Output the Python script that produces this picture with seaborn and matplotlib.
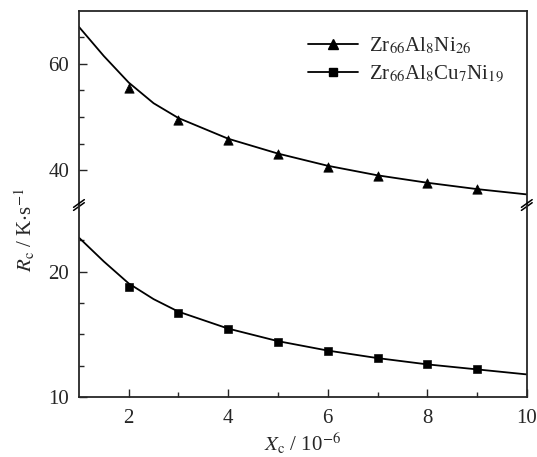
import matplotlib
matplotlib.use("Agg")
import matplotlib.pyplot as plt
import pandas as pd
import seaborn as sns

# measured points
x_points = [2, 3, 4, 5, 6, 7, 8, 9]
rc_zr_al_ni = [55.4, 49.4, 45.7, 43.0, 40.6, 38.9, 37.5, 36.4]
rc_zr_al_cu_ni = [18.75, 16.7, 15.4, 14.4, 13.7, 13.1, 12.6, 12.2]

# fitted curves
x_curve = [1, 1.5, 2, 2.5, 3, 4, 5, 6, 7, 8, 9, 10]
fit_zr_al_ni = [67.0, 61.5, 56.5, 52.6, 49.8, 45.9, 43.1, 40.8, 39.0, 37.6, 36.4, 35.4]
fit_zr_al_cu_ni = [22.7, 20.8, 19.05, 17.8, 16.8, 15.45, 14.45, 13.7, 13.1, 12.6, 12.2, 11.8]

label_ni = r"Zr$_{66}$Al$_{8}$Ni$_{26}$"
label_cu = r"Zr$_{66}$Al$_{8}$Cu$_{7}$Ni$_{19}$"

sns.set_style("ticks")
plt.rcParams["font.family"] = ["Liberation Serif", "DejaVu Serif"]
plt.rcParams["mathtext.fontset"] = "stix"
plt.rcParams["xtick.direction"] = "in"
plt.rcParams["ytick.direction"] = "in"
plt.rcParams["font.size"] = 15

fig = plt.figure(figsize=(5.37, 4.57), dpi=100)
ax_top = fig.add_axes([0.147, 0.5514, 0.834, 0.4246])
ax_bot = fig.add_axes([0.147, 0.1313, 0.834, 0.4201])

curve_top = pd.DataFrame({"x": x_curve, "y": fit_zr_al_ni})
curve_bot = pd.DataFrame({"x": x_curve, "y": fit_zr_al_cu_ni})
pts_top = pd.DataFrame({"x": x_points, "y": rc_zr_al_ni})
pts_bot = pd.DataFrame({"x": x_points, "y": rc_zr_al_cu_ni})

sns.lineplot(data=curve_top, x="x", y="y", ax=ax_top, color="black", lw=1.3)
sns.lineplot(data=curve_bot, x="x", y="y", ax=ax_bot, color="black", lw=1.3)
sns.scatterplot(data=pts_top, x="x", y="y", ax=ax_top, color="black",
                marker="^", s=45, edgecolor="black", zorder=3)
sns.scatterplot(data=pts_bot, x="x", y="y", ax=ax_bot, color="black",
                marker="s", s=30, edgecolor="black", zorder=3)

for ax in (ax_top, ax_bot):
    ax.set_xlim(1, 10)
    ax.set_xlabel("")
    ax.set_ylabel("")
    for s in ax.spines.values():
        s.set_linewidth(1.3)
    ax.tick_params(which="major", length=6, width=1)
    ax.tick_params(which="minor", length=3.5, width=1)
    ax.tick_params(axis="y", which="major", pad=7)
    ax.tick_params(axis="x", which="major", pad=9)
    ax.set_xticks([2, 4, 6, 8, 10])
    ax.set_xticks([3, 5, 7, 9], minor=True)

ax_top.set_ylim(33.4, 70)
ax_top.set_yticks([40, 60])
ax_top.set_yticks([45, 50, 55, 65], minor=True)
ax_top.spines["bottom"].set_visible(False)
ax_top.tick_params(axis="x", which="both", bottom=False, labelbottom=False)

ax_bot.set_ylim(10, 25.3)
ax_bot.set_yticks([10, 20])
ax_bot.set_yticks([12.5, 15, 17.5, 22.5], minor=True)
ax_bot.spines["top"].set_visible(False)

# legend with line + marker handles
h_ni = plt.Line2D([], [], color="black", lw=1.3, marker="^", markersize=7)
h_cu = plt.Line2D([], [], color="black", lw=1.3, marker="s", markersize=5.5)
fig.legend([h_ni, h_cu], [label_ni, label_cu], loc="upper left",
           bbox_to_anchor=(308 / 537, 0.922), bbox_transform=fig.transFigure,
           frameon=False, borderpad=0, borderaxespad=0, handlelength=2.4,
           handletextpad=0.55, labelspacing=0.35, fontsize=15)

# break marks
d = 0.012
for xx in (0, 1):
    for off in (-0.016, 0.0):
        ax_bot.plot([xx - d, xx + d], [1 + off - 0.012, 1 + off + 0.028],
                    transform=ax_bot.transAxes, color="black", lw=1.1, clip_on=False)

fig.text(0.047, 0.497, r"$R_{\rm c}$ / K$\cdot$s$^{-1}$", rotation=90,
         ha="center", va="center", fontsize=15)
fig.text(0.564, 0.028, r"$X_{\rm c}$ / 10$^{-6}$", ha="center", va="center",
         fontsize=15)

fig.savefig("out.png", dpi=100)
